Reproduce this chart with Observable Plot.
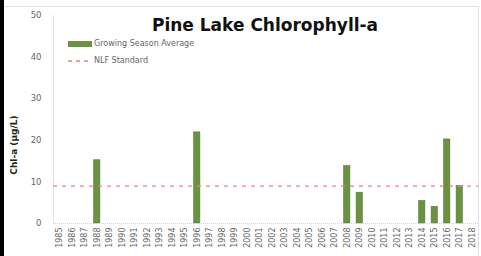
<!DOCTYPE html>
<html><head><meta charset="utf-8">
<script src="https://cdn.jsdelivr.net/npm/d3@7"></script>
<script src="https://cdn.jsdelivr.net/npm/@observablehq/plot@0.6"></script>
<style>
body{margin:0;background:#fff;font-family:"DejaVu Sans",Verdana,sans-serif;}
#wrap{position:relative;width:481px;height:256px;overflow:hidden;}
#wrap > svg{position:absolute;left:0;top:0;}
.ov{position:absolute;white-space:nowrap;}
</style></head><body>
<div id="wrap"></div>
<script>
const years = d3.range(1985, 2019).map(String);
const barYears = ["1988","1996","2008","2009","2014","2015","2016","2017"];
const barValues = [15.2, 21.9, 13.8, 7.4, 5.4, 4.0, 20.2, 9.0];
const standard = 9;
const yTicks = [0, 10, 20, 30, 40, 50];
const title = "Pine Lake Chlorophyll-a";
const yLabel = "Chl-a (µg/L)";
const legendBars = "Growing Season Average";
const legendLine = "NLF Standard";

const bars = barYears.map((y, i) => ({year: y, value: barValues[i]}));

const chart = Plot.plot({
  width: 481, height: 256,
  marginLeft: 53, marginRight: 3, marginTop: 15, marginBottom: 33,
  style: {fontFamily: "DejaVu Sans, Verdana, sans-serif", fontSize: "8px", color: "#666", background: "transparent"},
  x: {domain: years, type: "band", paddingInner: 0.5, paddingOuter: 0.25, round: false},
  y: {domain: [0, 50]},
  marks: [
    Plot.axisX({tickRotate: -90, tickSize: 0, tickPadding: 4, label: null, fontSize: 8, fill: "#666"}),
    Plot.axisY({ticks: yTicks, tickSize: 0, tickPadding: 12, label: null, fontSize: 8.5, fill: "#666"}),
    Plot.frame({anchor: "left", stroke: "#e4e4e4"}),
    Plot.barY(bars, {x: "year", y: "value", fill: "#6a9340", stroke: "#55773a", strokeWidth: 0.6}),
    Plot.ruleY([0], {stroke: "#d0d4dc", strokeDasharray: "1,1"}),
    Plot.ruleY([standard], {stroke: "#e58080", strokeWidth: 1.3, strokeDasharray: "4,5"})
  ]
});
const wrap = document.getElementById("wrap");
wrap.appendChild(chart);

function addDiv(html, css){ const d=document.createElement("div"); d.className="ov"; d.innerHTML=html; Object.assign(d.style, css); wrap.appendChild(d); return d; }
addDiv("", {left:"0px", top:"0px", width:"4px", height:"256px", background:"#000"});
addDiv("", {left:"4px", top:"6px", width:"474px", height:"1px", background:"#e2e2e2"});
addDiv("", {left:"478px", top:"6px", width:"1px", height:"250px", background:"#e2e2e2"});
addDiv(title, {left:"265px", top:"15px", transform:"translateX(-50%)", fontWeight:"bold", fontSize:"17px", color:"#111"});
addDiv(yLabel, {left:"14px", top:"145px", transform:"translate(-50%,-50%) rotate(-90deg)", fontWeight:"bold", fontSize:"9px", color:"#222"});
addDiv(`<span style="display:inline-block;width:24px;height:6px;background:#6a9340;vertical-align:middle;margin-right:2px"></span>${legendBars}`, {left:"68px", top:"39px", fontSize:"8px", color:"#666"});
addDiv(`<svg width="24" height="6" style="vertical-align:middle;margin-right:2px"><line x1="0" y1="3" x2="24" y2="3" stroke="#e58080" stroke-width="1.3" stroke-dasharray="4,4"/></svg>${legendLine}`, {left:"68px", top:"56px", fontSize:"8px", color:"#666"});
</script>
</body></html>
